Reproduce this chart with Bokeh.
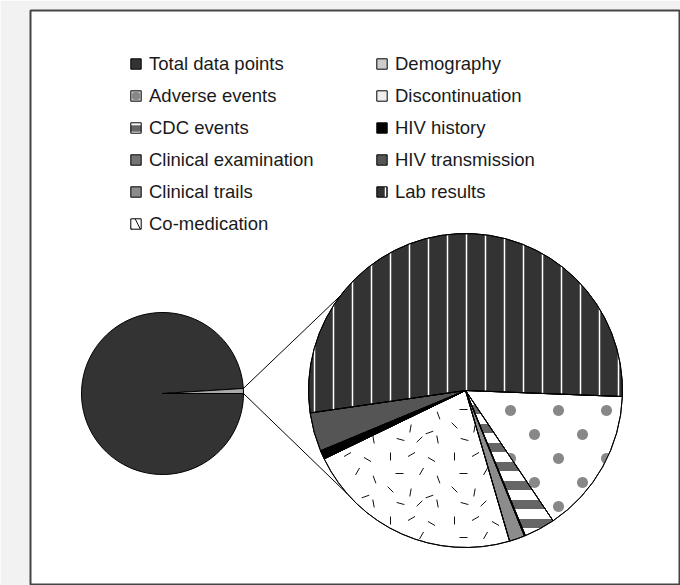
import math
from bokeh.plotting import figure
from bokeh.models import Range1d, Legend, LegendItem
from bokeh.embed import file_html
from bokeh.resources import INLINE

# ---------------- data ----------------
main_label = "Total data points"
main_value = 10000.0
detail_labels = ["Adverse events", "CDC events", "Clinical examination", "Clinical trails",
                 "Co-medication", "Demography", "Discontinuation", "HIV history",
                 "HIV transmission", "Lab results"]
detail_values = [15.0, 3.2, 0.1, 1.6, 22.4, 0.1, 0.1, 0.7, 4.0, 53.0]
legend_col1 = ["Total data points", "Adverse events", "CDC events", "Clinical examination",
               "Clinical trails", "Co-medication"]
legend_col2 = ["Demography", "Discontinuation", "HIV history", "HIV transmission", "Lab results"]

# ---------------- layout ----------------
FW, FH = 649, 575
SMALL_X, SMALL_Y, SMALL_R = 132, 192, 81
BIG_X, BIG_Y, BIG_R = 435, 195, 157
BIG_START_DEG = -2.2
CONN_TOP_DEG, CONN_BOT_DEG = 143.0, 221.0
OFF = -1000  # location for legend-only swatch renderers (outside the view)

# texture definitions (styling only)
DOT_ORIGIN, DOT_STEP, DOT_R = (480.0, 175.0), 24.0, 5.5
DASH_TILE, DASH_LEN = 64.0, 8.0
DASH_CELLS = [(6, 8, 90), (27, 6, 30), (47, 11, 150), (15, 25, 0), (37, 23, 60), (54, 31, 110),
              (6, 41, 135), (26, 44, 80), (45, 48, 20), (16, 55, 165), (35, 55, 45), (53, 55, 100)]

fills = {
    "Adverse events": dict(fill_color="white"),
    "CDC events": dict(fill_color="white", hatch_pattern="horizontal_line", hatch_scale=19,
                       hatch_weight=9, hatch_color="#666666"),
    "Clinical examination": dict(fill_color="#747474"),
    "Clinical trails": dict(fill_color="#8c8c8c"),
    "Co-medication": dict(fill_color="white"),
    "Demography": dict(fill_color="#cccccc"),
    "Discontinuation": dict(fill_color="#eeeeee"),
    "HIV history": dict(fill_color="#000000"),
    "HIV transmission": dict(fill_color="#555555"),
    "Lab results": dict(fill_color="#333333", hatch_pattern="vertical_line", hatch_scale=19,
                        hatch_weight=1.5, hatch_color="white"),
}


def sector_poly(cx, cy, r, a0, a1, n=90):
    pts = [(cx, cy)]
    for i in range(n + 1):
        t = a0 + (a1 - a0) * i / n
        pts.append((cx + r * math.cos(t), cy + r * math.sin(t)))
    return pts


def clip(subject, clipper):
    out = subject
    m = len(clipper)
    for i in range(m):
        ax, ay = clipper[i]
        bx, by = clipper[(i + 1) % m]
        if abs(bx - ax) < 1e-12 and abs(by - ay) < 1e-12:
            continue
        inp = out
        out = []
        if not inp:
            break

        def side(q):
            return (bx - ax) * (q[1] - ay) - (by - ay) * (q[0] - ax)

        s = inp[-1]
        for e in inp:
            se, ss = side(e), side(s)
            if se >= 0:
                if ss < 0:
                    t = ss / (ss - se)
                    out.append((s[0] + t * (e[0] - s[0]), s[1] + t * (e[1] - s[1])))
                out.append(e)
            elif ss >= 0:
                t = ss / (ss - se)
                out.append((s[0] + t * (e[0] - s[0]), s[1] + t * (e[1] - s[1])))
            s = e
    return out


def inside(poly, x, y):
    m = len(poly)
    for i in range(m):
        ax, ay = poly[i]
        bx, by = poly[(i + 1) % m]
        if abs(bx - ax) < 1e-12 and abs(by - ay) < 1e-12:
            continue
        if (bx - ax) * (y - ay) - (by - ay) * (x - ax) < 1.0:
            return False
    return True


p = figure(width=680, height=585, x_range=Range1d(0, FW), y_range=Range1d(0, FH),
           output_backend="svg", toolbar_location=None,
           x_axis_location=None, y_axis_location=None,
           min_border_left=30, min_border_right=1, min_border_top=10, min_border_bottom=0)
p.grid.visible = False
p.border_fill_color = "#f2f2f2"
p.background_fill_color = "white"
p.outline_line_color = "#444444"
p.outline_line_width = 2

renderers = {}

# small (main) pie
other_total = sum(detail_values)
other_sweep = other_total / (other_total + main_value) * 2 * math.pi
r_main = p.wedge(x=SMALL_X, y=SMALL_Y, radius=SMALL_R, start_angle=other_sweep, end_angle=2 * math.pi,
                 fill_color="#333333", line_color="black", line_width=1)
renderers[main_label] = r_main
p.wedge(x=SMALL_X, y=SMALL_Y, radius=SMALL_R, start_angle=0, end_angle=other_sweep,
        fill_color="#aaaaaa", line_color="black", line_width=1)

# detail pie (clockwise from start angle)
angles = {}
ang = math.radians(BIG_START_DEG)
for lab, v in zip(detail_labels, detail_values):
    sweep = v / other_total * 2 * math.pi
    st = ang - sweep
    angles[lab] = (st, ang)
    r = p.wedge(x=BIG_X, y=BIG_Y, radius=BIG_R, start_angle=st, end_angle=ang,
                line_color="black", line_width=1, **fills[lab])
    renderers[lab] = r
    ang = st

# dotted texture of "Adverse events", clipped to its slice
a0, a1 = angles["Adverse events"]
sec = sector_poly(BIG_X, BIG_Y, BIG_R, a0, a1)
dxs, dys = [], []
for k in range(-12, 13):
    for m in range(-12, 13):
        if (k + m) % 2:
            continue
        cx = DOT_ORIGIN[0] + DOT_STEP * k
        cy = DOT_ORIGIN[1] - DOT_STEP * m
        circ = [(cx + DOT_R * math.cos(2 * math.pi * i / 24), cy + DOT_R * math.sin(2 * math.pi * i / 24))
                for i in range(24)]
        c = clip(circ, sec)
        if len(c) >= 3:
            dxs.append([q[0] for q in c])
            dys.append([q[1] for q in c])
p.patches(xs=dxs, ys=dys, fill_color="#888888", line_color=None)

# dash texture of "Co-medication"
a0, a1 = angles["Co-medication"]
sec = sector_poly(BIG_X, BIG_Y, BIG_R, a0, a1)
sx0, sy0, sx1, sy1 = [], [], [], []
for tx in range(0, 12):
    for ty in range(0, 11):
        for (ox, oy, adeg) in DASH_CELLS:
            px = tx * DASH_TILE + ox - 30
            py = FH + 10 - (ty * DASH_TILE + oy)
            t = math.radians(adeg)
            hx, hy = DASH_LEN / 2 * math.cos(t), DASH_LEN / 2 * math.sin(t)
            if inside(sec, px - hx, py - hy) and inside(sec, px + hx, py + hy):
                sx0.append(px - hx); sy0.append(py - hy); sx1.append(px + hx); sy1.append(py + hy)
p.segment(x0=sx0, y0=sy0, x1=sx1, y1=sy1, line_color="#111111", line_width=1)

# outlines on top
for lab in detail_labels:
    st, en = angles[lab]
    p.wedge(x=BIG_X, y=BIG_Y, radius=BIG_R, start_angle=st, end_angle=en,
            fill_color=None, line_color="black", line_width=1)

# connector lines
x0s = [SMALL_X + SMALL_R * math.cos(other_sweep), SMALL_X + SMALL_R]
y0s = [SMALL_Y + SMALL_R * math.sin(other_sweep), SMALL_Y]
x1s = [BIG_X + BIG_R * math.cos(math.radians(CONN_TOP_DEG)), BIG_X + BIG_R * math.cos(math.radians(CONN_BOT_DEG))]
y1s = [BIG_Y + BIG_R * math.sin(math.radians(CONN_TOP_DEG)), BIG_Y + BIG_R * math.sin(math.radians(CONN_BOT_DEG))]
p.segment(x0=x0s, y0=y0s, x1=x1s, y1=y1s, line_color="black", line_width=1)

# legend-only swatches for textured categories (placed outside the visible range)
leg_adv_box = p.wedge(x=[OFF], y=[OFF], radius=1, start_angle=0, end_angle=1,
                      fill_color="#d6d6d6", line_color="black", line_width=1)
leg_adv_dot = p.scatter(x=[OFF], y=[OFF], marker="circle", size=5, fill_color="#888888",
                        line_color="#888888", line_width=4)
leg_cdc = p.wedge(x=[OFF], y=[OFF], radius=1, start_angle=0, end_angle=1, fill_color="white",
                  hatch_pattern="horizontal_line", hatch_scale=13, hatch_weight=6.5,
                  hatch_color="#666666", line_color="black", line_width=1)
leg_com = p.wedge(x=[OFF], y=[OFF], radius=1, start_angle=0, end_angle=1, fill_color="white",
                  hatch_pattern="left_diagonal_line", hatch_scale=18, hatch_weight=1,
                  hatch_color="#111111", line_color="black", line_width=1)
legend_renderers = dict(renderers)
legend_renderers["Adverse events"] = [leg_adv_box, leg_adv_dot]
legend_renderers["CDC events"] = leg_cdc
legend_renderers["Co-medication"] = leg_com


def make_legend(labels, loc):
    items = []
    for l in labels:
        rr = legend_renderers[l]
        items.append(LegendItem(label=l, renderers=rr if isinstance(rr, list) else [rr]))
    return Legend(items=items, location=loc, orientation="vertical",
                  glyph_width=13, glyph_height=13, label_standoff=7, spacing=10, label_height=20,
                  padding=0, margin=0, border_line_color=None, background_fill_alpha=0,
                  label_text_font="Liberation Sans", label_text_font_size="18.5px",
                  label_text_color="#1a1a1a")


ITEM_H, GAP, TOP = 22, 10, 52.5
p.add_layout(make_legend(legend_col1, (99, FH + 10 - TOP - (6 * ITEM_H + 5 * GAP))))
p.add_layout(make_legend(legend_col2, (345, FH + 10 - TOP - (5 * ITEM_H + 4 * GAP))))

open("out.html", "w").write(file_html(p, INLINE))
